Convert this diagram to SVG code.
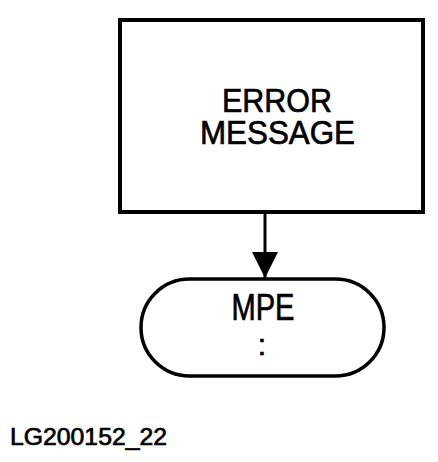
<svg xmlns="http://www.w3.org/2000/svg" width="438" height="462" viewBox="0 0 438 462">
<style>
.t{font-family:"Liberation Sans",Arial,sans-serif;fill:#000;stroke:#000;stroke-width:0.7;text-anchor:middle}
.s{fill:#fff;stroke:#000}
</style>
<defs>
<marker id="ah" markerUnits="userSpaceOnUse" markerWidth="28" markerHeight="26" refX="26" refY="13" orient="auto">
<path d="M0,0 L26,13 L0,26 Z" fill="#000"/>
</marker>
</defs>
<rect width="438" height="462" fill="#fff"/>
<g id="connectors">
<line x1="265" y1="214" x2="265" y2="278" stroke="#000" stroke-width="3" marker-end="url(#ah)"/>
</g>
<g id="error-message">
<rect class="s" x="120" y="20" width="303" height="192" stroke-width="4"/>
<text class="t" x="277" y="112" font-size="34" textLength="110" lengthAdjust="spacingAndGlyphs">ERROR</text>
<text class="t" x="277.5" y="144" font-size="34" textLength="155" lengthAdjust="spacingAndGlyphs">MESSAGE</text>
</g>
<g id="mpe">
<rect class="s" x="141" y="279" width="243" height="97" rx="48.5" ry="48.5" stroke-width="3.5"/>
<text class="t" x="263" y="320" font-size="36" textLength="63" lengthAdjust="spacingAndGlyphs">MPE</text>
<text class="t" x="262" y="355" font-size="30">:</text>
</g>
<text id="label" class="t" x="10" y="445" font-size="24" textLength="157" lengthAdjust="spacingAndGlyphs" style="text-anchor:start">LG200152_22</text>
</svg>
